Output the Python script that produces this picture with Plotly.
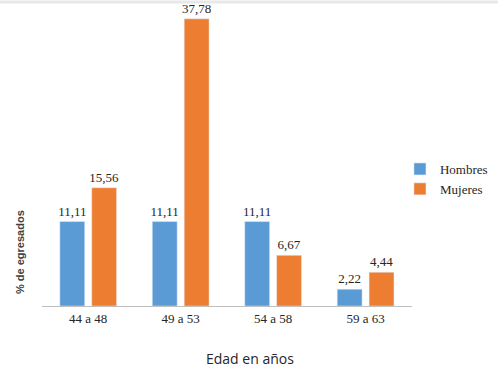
import plotly.graph_objects as go

categorias = ["44 a 48", "49 a 53", "54 a 58", "59 a 63"]
hombres = [11.11, 11.11, 11.11, 2.22]
mujeres = [15.56, 37.78, 6.67, 4.44]

def fmt(v):
    return f"{v:.2f}".replace(".", ",")

serif = "Liberation Serif, Times New Roman, serif"
fig = go.Figure()
for nombre, vals, color in [("Hombres", hombres, "#5B9BD5"), ("Mujeres", mujeres, "#ED7D31")]:
    fig.add_trace(go.Bar(name=nombre, x=categorias, y=vals, marker_color=color,
                         text=[fmt(v) for v in vals], textposition="outside",
                         constraintext="none", hoverinfo="skip",
                         textfont=dict(family=serif, size=13, color="#262626"), cliponaxis=False))

fig.update_layout(
    width=498, height=369,
    margin=dict(l=42, r=0, t=2, b=63, autoexpand=False),
    paper_bgcolor="white", plot_bgcolor="white",
    barmode="group", bargap=0.31, bargroupgap=0.22,
    showlegend=True,
    legend=dict(x=0.785, y=0.5, xanchor="left", yanchor="top",
                font=dict(family=serif, size=13, color="#262626"),
                itemwidth=30, tracegroupgap=2, bgcolor="rgba(0,0,0,0)"),
    xaxis=dict(domain=[0, 0.811], showline=True, linecolor="#BFBFBF", linewidth=1, ticks="",
               tickfont=dict(family=serif, size=13, color="#262626"), showgrid=False),
    yaxis=dict(range=[0, 40], visible=False, showgrid=False),
    annotations=[
        dict(text="Edad en años", x=0.456, y=-0.174, xref="paper", yref="paper",
             xanchor="center", yanchor="middle", showarrow=False,
             font=dict(family="Open Sans, Liberation Sans, sans-serif", size=14, color="#262626")),
        dict(text="<b>% de egresados</b>", x=-0.048, y=0.178, xref="paper", yref="paper",
             xanchor="center", yanchor="middle", showarrow=False, textangle=-90,
             font=dict(family="Liberation Sans, sans-serif", size=11, color="#404040")),
    ],
    shapes=[dict(type="line", xref="paper", yref="paper", x0=-0.2, x1=1.3, y0=1.0, y1=1.0,
                 line=dict(color="#E8E8E8", width=3))],
)
fig.write_html("out.html", config={"displayModeBar": False})

with open("out.html", encoding="utf-8") as f:
    html = f.read()
html = html.replace("<head>", "<head><style>html,body{margin:0;padding:0;overflow:hidden;}</style>", 1)
with open("out.html", "w", encoding="utf-8") as f:
    f.write(html)
